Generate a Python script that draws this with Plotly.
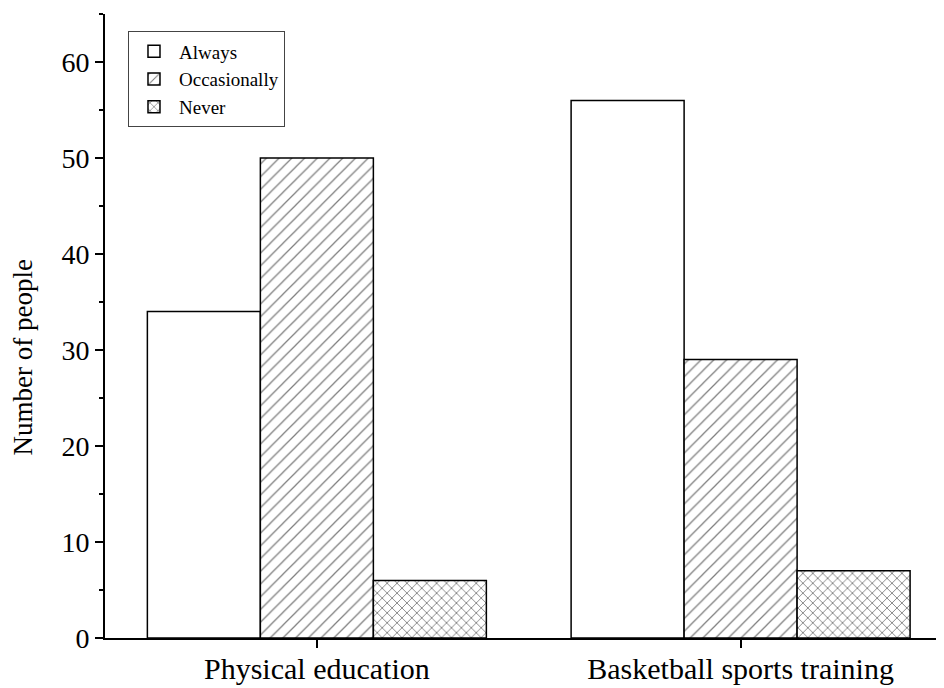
import plotly.graph_objects as go

categories = ["Physical education", "Basketball sports training"]
always = [34, 56]
occasionally = [50, 29]
never = [6, 7]
y_ticks = [0, 10, 20, 30, 40, 50, 60]

FONT = "Liberation Serif, Times New Roman, serif"

fig = go.Figure()
fig.add_trace(go.Bar(
    name="Always", x=categories, y=always,
    marker=dict(color="white", line=dict(color="black", width=1.5)),
))
fig.add_trace(go.Bar(
    name="Occasionally", x=categories, y=occasionally,
    marker=dict(color="white", line=dict(color="black", width=1.5),
                pattern=dict(shape="/", fgcolor="black", bgcolor="white",
                             size=9, solidity=0.14)),
))
fig.add_trace(go.Bar(
    name="Never", x=categories, y=never,
    marker=dict(color="white", line=dict(color="black", width=1.5),
                pattern=dict(shape="x", fgcolor="black", bgcolor="white",
                             size=7, solidity=0.24)),
))

# The page body has an 8px margin, so the figure is offset by 8px.
fig.update_layout(
    width=936, height=680,
    margin=dict(l=97, r=0, t=6, b=50, autoexpand=False),
    paper_bgcolor="white", plot_bgcolor="white",
    barmode="group", bargap=0.2, bargroupgap=0,
    font=dict(family=FONT, color="black"),
    showlegend=True,
    legend=dict(
        x=0.0274, y=0.972, xanchor="left", yanchor="top",
        bgcolor="white", bordercolor="#444", borderwidth=1,
        font=dict(family=FONT, size=19, color="black"),
        tracegroupgap=0, itemwidth=40,
    ),
    xaxis=dict(
        range=[-0.5, 1.48],
        showline=True, linecolor="black", linewidth=2,
        ticks="outside", ticklen=8, tickwidth=2, tickcolor="black",
        tickfont=dict(family=FONT, size=30, color="black"),
        ticklabelstandoff=-5,
        showgrid=False, zeroline=False,
    ),
    yaxis=dict(
        range=[0, 65],
        tickvals=y_ticks,
        showline=True, linecolor="black", linewidth=2,
        ticks="outside", ticklen=8, tickwidth=2, tickcolor="black",
        tickfont=dict(family=FONT, size=28, color="black"),
        minor=dict(dtick=5, tick0=5, ticks="outside", ticklen=4,
                   tickwidth=1.5, tickcolor="black", showgrid=False),
        showgrid=False, zeroline=False,
    ),
    annotations=[dict(
        text="Number of people", textangle=-90,
        xref="paper", x=-0.098, xanchor="center",
        yref="y", y=29.2, yanchor="middle",
        showarrow=False,
        font=dict(family=FONT, size=27, color="black"),
    )],
)

fig.write_html("out.html")
